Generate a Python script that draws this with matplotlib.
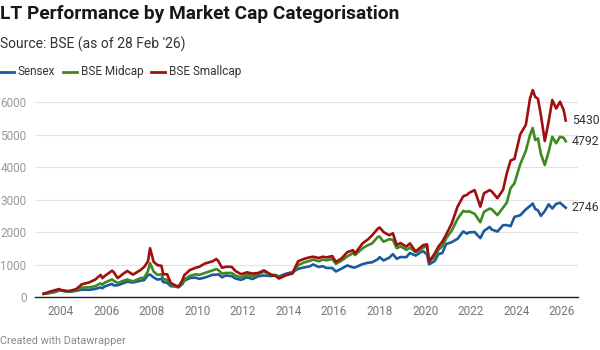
import matplotlib
matplotlib.use("Agg")
import matplotlib.pyplot as plt

plt.rcParams['font.family'] = ['Roboto', 'DejaVu Sans']

# decimal years, Apr 2003 = 100
dates = [2003.25, 2003.5, 2003.75, 2003.92, 2004.08, 2004.37, 2004.67, 2004.92,
         2005.25, 2005.5, 2005.75, 2005.83, 2005.92, 2006.25, 2006.33, 2006.5,
         2006.75, 2006.92, 2007.17, 2007.5, 2007.67, 2007.83, 2007.92, 2008.08,
         2008.25, 2008.42, 2008.5, 2008.67, 2008.83, 2009.0, 2009.17, 2009.33,
         2009.42, 2009.67, 2009.92, 2010.08, 2010.33, 2010.67, 2010.83, 2010.92,
         2011.08, 2011.25, 2011.5, 2011.67, 2011.92, 2012.17, 2012.42, 2012.67,
         2012.92, 2013.25, 2013.42, 2013.58, 2013.92, 2014.17, 2014.42, 2014.67,
         2014.92, 2015.08, 2015.33, 2015.5, 2015.67, 2015.92, 2016.08, 2016.33,
         2016.58, 2016.83, 2016.92, 2017.25, 2017.5, 2017.67, 2017.92, 2018.0,
         2018.17, 2018.42, 2018.58, 2018.75, 2018.92, 2019.17, 2019.33, 2019.58,
         2019.83, 2019.92, 2020.08, 2020.17, 2020.42, 2020.58, 2020.75, 2020.92,
         2021.17, 2021.42, 2021.67, 2021.83, 2021.92, 2022.17, 2022.42, 2022.58,
         2022.83, 2022.92, 2023.17, 2023.42, 2023.58, 2023.75, 2023.92, 2024.17,
         2024.42, 2024.6, 2024.72, 2024.83, 2024.95, 2025.08, 2025.25, 2025.42,
         2025.58, 2025.75, 2025.92, 2026.08, 2026.17]

sensex = [100, 123, 152, 199, 193, 162, 191, 225,
          222, 246, 295, 269, 321, 405, 355, 362,
          425, 471, 446, 500, 523, 677, 692, 602,
          534, 560, 459, 439, 334, 325, 303, 389,
          499, 585, 596, 558, 599, 685, 684, 700,
          608, 664, 643, 569, 527, 606, 554, 640,
          663, 643, 674, 635, 723, 764, 867, 909,
          939, 1002, 922, 948, 893, 891, 785, 874,
          971, 910, 909, 1011, 1055, 1068, 1162, 1227,
          1125, 1209, 1319, 1175, 1231, 1224, 1355, 1274,
          1392, 1408, 1307, 1006, 1107, 1318, 1352, 1630,
          1690, 1791, 2018, 1948, 1988, 1999, 1810, 2032,
          2154, 2076, 2013, 2209, 2213, 2180, 2466, 2514,
          2697, 2800, 2877, 2709, 2667, 2498, 2642, 2853,
          2724, 2867, 2900, 2800, 2746]

midcap = [100, 125, 165, 200, 190, 165, 200, 290,
          300, 330, 420, 380, 440, 540, 500, 430,
          500, 540, 480, 580, 600, 800, 1040, 780,
          680, 700, 550, 530, 380, 340, 300, 420,
          540, 650, 700, 680, 740, 820, 860, 830,
          720, 740, 740, 660, 600, 680, 640, 700,
          780, 680, 680, 590, 680, 720, 980, 1060,
          1110, 1150, 1100, 1150, 1130, 1170, 1020, 1120,
          1250, 1350, 1290, 1500, 1600, 1650, 1850, 1860,
          1700, 1780, 1760, 1500, 1560, 1450, 1520, 1380,
          1480, 1520, 1560, 1090, 1230, 1450, 1560, 1800,
          2050, 2400, 2650, 2620, 2640, 2560, 2300, 2620,
          2720, 2700, 2520, 2750, 2900, 3350, 3500, 4080,
          4500, 4980, 5200, 4830, 4880, 4400, 4060, 4470,
          4930, 4730, 4930, 4900, 4792]

smallcap = [100, 160, 210, 245, 200, 185, 240, 390,
            450, 530, 680, 580, 640, 810, 760, 580,
            720, 800, 690, 830, 930, 1100, 1500, 1080,
            980, 960, 700, 700, 430, 370, 320, 500,
            670, 830, 900, 930, 1030, 1100, 1170, 1100,
            900, 930, 930, 800, 700, 760, 720, 740,
            820, 680, 650, 570, 680, 730, 1100, 1170,
            1220, 1240, 1200, 1240, 1220, 1260, 1080, 1190,
            1380, 1440, 1340, 1650, 1780, 1900, 2100, 2140,
            2000, 1900, 1960, 1600, 1660, 1550, 1650, 1400,
            1550, 1600, 1620, 1090, 1340, 1550, 1700, 1920,
            2270, 2780, 3100, 3140, 3200, 3290, 2780, 3190,
            3290, 3250, 3040, 3300, 3800, 4200, 4250, 5000,
            5300, 6100, 6370, 6160, 6100, 5600, 4800, 5400,
            6060, 5800, 6010, 5750, 5430]

names = ['Sensex', 'BSE Midcap', 'BSE Smallcap']
colors = ['#1b5a9e', '#3c8a20', '#a20e0e']
series = [sensex, midcap, smallcap]
yticks = [0, 1000, 2000, 3000, 4000, 5000, 6000]
xticks = list(range(2004, 2027, 2))

fig = plt.figure(figsize=(6, 3.5), dpi=100)
ax = fig.add_axes([0.058, 0.1514, 0.905, 0.5943])

for i, (name, vals, col) in enumerate(zip(names, series, colors)):
    ax.plot(dates, vals, color=col, lw=1.9, solid_joinstyle='round', zorder=3 + i)
    ax.annotate(str(vals[-1]), xy=(dates[-1], vals[-1]), xytext=(4.5, 0),
                textcoords='offset points', color='#333333', fontsize=8.8,
                va='center', ha='left', annotation_clip=False)

ax.set_xlim(2002.86, 2026.7)
ax.set_ylim(0, 6400)
ax.set_yticks(yticks)
ax.set_xticks(xticks)
ax.set_yticklabels([str(v) for v in yticks], color='#9a9a9a', fontsize=8.5)
ax.set_xticklabels([str(v) for v in xticks], color='#777777', fontsize=8.5)
ax.tick_params(axis='both', length=0)
ax.tick_params(axis='y', pad=6)
ax.tick_params(axis='x', pad=6)
ax.grid(axis='y', color='#e3e3e3', lw=0.8)
ax.set_axisbelow(True)
for s in ['top', 'right', 'left']:
    ax.spines[s].set_visible(False)
ax.spines['bottom'].set_color('#222222')
ax.spines['bottom'].set_linewidth(1.0)
ax.spines['bottom'].set_zorder(10)

fig.text(0.0, 0.96, 'LT Performance by Market Cap Categorisation',
         fontsize=13.8, fontweight='bold', color='#181818', va='center', ha='left')
fig.text(0.0, 0.872, "Source: BSE (as of 28 Feb '26)",
         fontsize=10, color='#333333', va='center', ha='left')

# legend row
lx = 0.0
for name, col in zip(names, colors):
    fig.add_artist(plt.Line2D([lx, lx + 0.024], [0.795, 0.795], color=col, lw=2,
                              transform=fig.transFigure))
    t = fig.text(lx + 0.03, 0.795, name, fontsize=8.5, color='#333333',
                 va='center', ha='left')
    fig.canvas.draw()
    bb = t.get_window_extent()
    lx = bb.x1 / fig.bbox.width + 0.012

fig.text(0.0, 0.026, 'Created with Datawrapper', fontsize=7.8, color='#888888',
         va='center', ha='left')

fig.savefig('out.png', dpi=100)
